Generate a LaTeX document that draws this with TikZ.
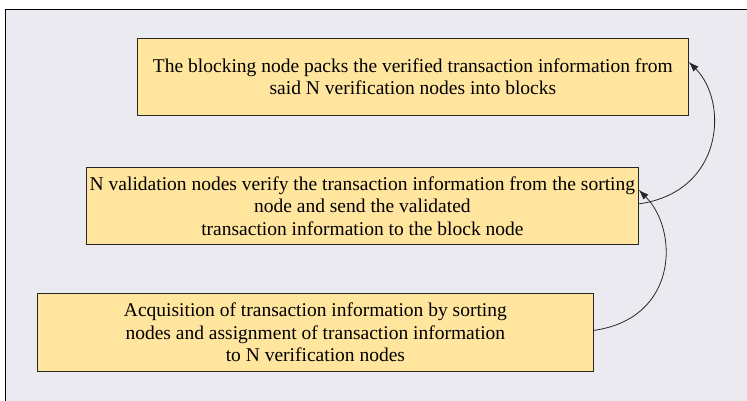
\documentclass[tikz,border=0pt]{standalone}
\usepackage{fontspec}
\setmainfont{Liberation Serif}
\newfontfamily\boxfont{Liberation Serif}
\usetikzlibrary{arrows.meta}
\definecolor{panel}{HTML}{ECEAF1}
\definecolor{boxfill}{HTML}{FFE59D}
\begin{document}
\begin{tikzpicture}[x=1pt,y=-1pt,
  stepbox/.style={draw=black!85, line width=0.8pt, fill=boxfill, inner sep=0pt,
    align=center, font=\boxfont\fontsize{19.5}{22.5}\selectfont, anchor=north west},
  link/.style={draw=black!85, line width=0.8pt, -{Latex[length=10pt,width=7pt]}}]
  \useasboundingbox (0,0) rectangle (747,400);
  % panel behind the flow
  \draw[fill=panel, line width=0.8pt] (5,9) rectangle (770,420);

  \node[stepbox, minimum width=551pt, minimum height=77pt] (b1) at (137,38)
    {The blocking node packs the verified transaction information from\\
     said N verification nodes into blocks};
  \node[stepbox, minimum width=552pt, minimum height=77pt] (b2) at (86,167)
    {N validation nodes verify the transaction information from the sorting\\
     node and send the validated\\
     transaction information to the block node};
  \node[stepbox, minimum width=556pt, minimum height=78pt] (b3) at (37,293)
    {Acquisition of transaction information by sorting\\
     nodes and assignment of transaction information\\
     to N verification nodes};

  \draw[link] ([yshift=2pt]b3.east) .. controls +(85,-12) and +(40,40) .. ([yshift=16pt]b2.east);
  \draw[link] ([yshift=2pt]b2.east) .. controls +(85,-12) and +(40,40) .. ([yshift=15pt]b1.east);
\end{tikzpicture}
\end{document}
